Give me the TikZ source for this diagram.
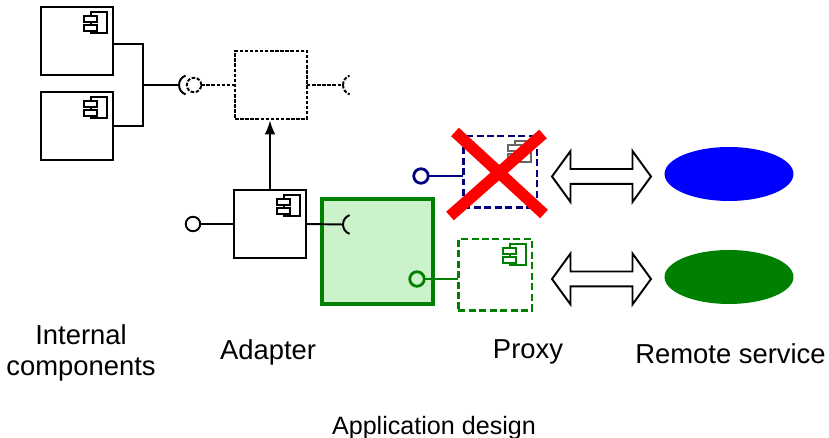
\documentclass[tikz,border=0pt]{standalone}
\usepackage{fontspec}
\setmainfont{Liberation Sans}
\usepackage{tikz}
\usetikzlibrary{arrows.meta,calc,shapes.geometric,shapes.arrows}
\definecolor{navyline}{HTML}{000080}
\definecolor{greenline}{HTML}{008000}
\definecolor{greenfill}{HTML}{CCF2CC}
\tikzset{
	compbox/.style={draw, fill=white, line width=1.1pt, minimum width=1.44cm, minimum height=1.36cm, inner sep=0, outer sep=0},
	ghostbox/.style={compbox, fill=none, dash pattern=on 0.07cm off 0.032cm},
	lolly/.style={draw, fill=white, circle, line width=1.1pt, minimum size=0.29cm, inner sep=0, outer sep=0},
	wire/.style={line width=1.1pt},
	proxybox/.style={compbox, fill=none, line width=1.7pt, dash pattern=on 0.14cm off 0.07cm, minimum width=1.48cm, minimum height=1.44cm},
	roundtrip/.style={draw, fill=white, double arrow, line width=1.1pt, minimum height=1.98cm, minimum width=0.98cm, double arrow head extend=0.36cm, double arrow tip angle=108, inner sep=0.13cm, outer sep=0},
	service/.style={ellipse, minimum width=2.58cm, minimum height=1.08cm, inner sep=0},
	caption/.style={font=\fontsize{15.6pt}{18pt}\selectfont, align=center, inner sep=0}
}
\def\compicon[#1](#2){
	\draw[#1] ($(#2)+(-22,-5)$) rectangle ($(#2)+(-6,-26)$);
	\draw[#1, fill=white] ($(#2)+(-29,-9)$) rectangle ($(#2)+(-16,-15)$);
	\draw[#1, fill=white] ($(#2)+(-29,-18)$) rectangle ($(#2)+(-16,-24)$);
}
\def\socketarc[#1](#2){
	\draw[#1] (#2) arc (180:110:10);
	\draw[#1] (#2) arc (180:250:10);
}
\begin{document}
\begin{tikzpicture}[x=0.02cm, y=0.02cm]
	\useasboundingbox (0, 0) rectangle (829, -438);

	% internal components
	\node[compbox] (compa) at (77, -41) {};
	\node[compbox] (compb) at (77, -126) {};
	\compicon[line width=0.6pt](compa.north east);
	\compicon[line width=0.6pt](compb.north east);
	\coordinate (busa) at (113, -44);
	\coordinate (busjoin) at (143, -85);
	\coordinate (sockin) at (179, -85);
	\draw[wire] (busa) -| (busjoin);
	\draw[wire] (compb.east) -| (busjoin);
	\draw[wire] (busjoin) -- (sockin);
	\socketarc[wire](sockin);

	% dashed component
	\node[ghostbox] (ghost) at (271, -85) {};
	\node[lolly, dash pattern=on 0.07cm off 0.032cm] (ghostin) at (194, -85) {};
	\coordinate (sockout) at (343, -85);
	\draw[wire, dash pattern=on 0.07cm off 0.032cm] (ghostin) -- (ghost.west);
	\draw[wire, dash pattern=on 0.07cm off 0.032cm] (ghost.east) -- (sockout);
	\socketarc[wire, dash pattern=on 0.07cm off 0.032cm](sockout);

	% adapter
	\node[compbox] (adapter) at (270, -224) {};
	\compicon[line width=0.6pt](adapter.north east);
	\node[lolly] (adaptin) at (193, -224) {};
	\draw[wire] (adaptin) -- (adapter.west);
	\draw[wire, shorten >=0.03cm, -{Latex[length=0.28cm, width=0.22cm]}] (adapter.north) -- (ghost.south -| adapter.north);

	% application box
	\node[draw=greenline, fill=greenfill, line width=1.75pt, minimum width=2.22cm, minimum height=2.1cm, inner sep=0, outer sep=0] (appbox) at (377.5, -251.5) {};
	\coordinate (sockapp) at (343, -224.5);
	\draw[wire] (adapter.east) -- (sockapp);
	\socketarc[wire](sockapp);
	\node[lolly, draw=greenline, fill=none, line width=1.6pt] (appout) at (417, -279) {};

	% green proxy
	\node[proxybox, draw=greenline] (proxyg) at (495, -275) {};
	\compicon[line width=1.5pt, draw=greenline](proxyg.north east);
	\draw[greenline, line width=1.6pt] (appout) -- (proxyg.west |- appout);

	% blue proxy, crossed out
	\node[proxybox, draw=navyline] (proxyb) at (500, -172) {};
	\compicon[line width=0.7pt, draw=black!60](proxyb.north east);
	\node[lolly, draw=navyline, line width=1.6pt] (proxyin) at (421, -176) {};
	\draw[navyline, line width=1.6pt] (proxyin) -- (proxyb.west |- proxyin);
	\draw[red, line width=0.23cm] (455, -132) -- (544, -214);
	\draw[red, line width=0.23cm] (543, -134) -- (450, -216);

	% remote services
	\node[roundtrip] (linkb) at (601.5, -176.5) {};
	\node[roundtrip] (linkg) at (601.5, -279) {};
	\node[service, fill=blue] (serviceb) at (729, -174) {};
	\node[service, fill=greenline] (serviceg) at (729, -277) {};

	% captions
	\node[caption] (capint) at (81, -353) {Internal\\components};
	\node[caption] (capada) at (268, -352) {Adapter};
	\node[caption] (cappro) at (528, -352) {Proxy};
	\node[caption] (caprem) at (730.5, -354) {Remote service};
	\node[caption, font=\fontsize{14.3pt}{17pt}\selectfont] (capapp) at (434, -428) {Application design};
\end{tikzpicture}
\end{document}
